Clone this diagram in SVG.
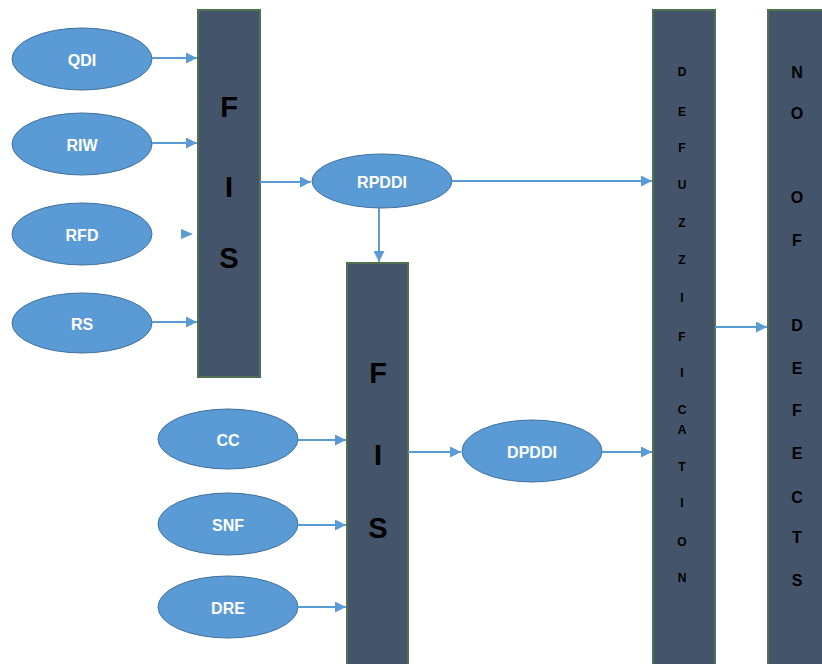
<svg xmlns="http://www.w3.org/2000/svg" width="822" height="664" viewBox="0 0 822 664">
  <style>
    .bg { fill: #ffffff; }
    .ell { fill: #5b9bd5; stroke: #41719c; stroke-width: 1; }
    .lbl { font-family: "Liberation Sans", Arial, sans-serif; font-weight: bold; font-size: 16px; fill: #ffffff; text-anchor: middle; dominant-baseline: central; }
    .box { fill: #44546a; stroke: #507050; stroke-width: 2; }
    .big { font-family: "Liberation Sans", Arial, sans-serif; font-weight: bold; font-size: 29px; fill: #000000; text-anchor: middle; dominant-baseline: central; }
    .sm { font-family: "Liberation Sans", Arial, sans-serif; font-weight: bold; font-size: 12px; fill: #000000; text-anchor: middle; dominant-baseline: central; }
    .md { font-family: "Liberation Sans", Arial, sans-serif; font-weight: bold; font-size: 16px; fill: #000000; text-anchor: middle; dominant-baseline: central; }
    .conn { stroke: #5b9bd5; stroke-width: 2; fill: none; marker-end: url(#arrow); }
  </style>
  <defs>
    <marker id="arrow" viewBox="0 0 10 10" refX="10" refY="5" markerWidth="6.5" markerHeight="5.5" orient="auto" markerUnits="strokeWidth">
      <path d="M0,0 L10,5 L0,10 z" fill="#5b9bd5"/>
    </marker>
  </defs>
  <rect class="bg" x="0" y="0" width="822" height="664"/>

  <!-- input variables, first inference stage -->
  <g id="qdi"><ellipse class="ell" cx="82" cy="59" rx="70" ry="31"/><text class="lbl" x="82" y="60">QDI</text></g>
  <g id="riw"><ellipse class="ell" cx="82" cy="144" rx="70" ry="31"/><text class="lbl" x="82" y="145">RIW</text></g>
  <g id="rfd"><ellipse class="ell" cx="82" cy="234" rx="70" ry="31"/><text class="lbl" x="82" y="235">RFD</text></g>
  <g id="rs"><ellipse class="ell" cx="82" cy="323" rx="70" ry="30"/><text class="lbl" x="82" y="324">RS</text></g>

  <!-- first FIS -->
  <g id="fis1">
    <rect class="box" x="198" y="10" width="62" height="367"/>
    <text class="big" x="229" y="107">F</text>
    <text class="big" x="229" y="187">I</text>
    <text class="big" x="229" y="258">S</text>
  </g>

  <g id="rpddi"><ellipse class="ell" cx="382" cy="181" rx="70" ry="27"/><text class="lbl" x="382" y="182">RPDDI</text></g>

  <!-- second FIS -->
  <g id="fis2">
    <rect class="box" x="347" y="263" width="61" height="410"/>
    <text class="big" x="378" y="373">F</text>
    <text class="big" x="378" y="455">I</text>
    <text class="big" x="378" y="528">S</text>
  </g>

  <!-- input variables, second inference stage -->
  <g id="cc"><ellipse class="ell" cx="228" cy="439" rx="70" ry="30"/><text class="lbl" x="228" y="440">CC</text></g>
  <g id="snf"><ellipse class="ell" cx="228" cy="524" rx="70" ry="31"/><text class="lbl" x="228" y="525">SNF</text></g>
  <g id="dre"><ellipse class="ell" cx="228" cy="607" rx="70" ry="31"/><text class="lbl" x="228" y="608">DRE</text></g>

  <g id="dpddi"><ellipse class="ell" cx="532" cy="451" rx="70" ry="31"/><text class="lbl" x="532" y="452">DPDDI</text></g>

  <!-- defuzzification column -->
  <g id="defuzzification">
    <rect class="box" x="653" y="10" width="62" height="664"/>
    <text class="sm" x="682" y="72">D</text>
    <text class="sm" x="682" y="112">E</text>
    <text class="sm" x="682" y="148">F</text>
    <text class="sm" x="682" y="185">U</text>
    <text class="sm" x="682" y="223">Z</text>
    <text class="sm" x="682" y="260">Z</text>
    <text class="sm" x="682" y="298">I</text>
    <text class="sm" x="682" y="337">F</text>
    <text class="sm" x="682" y="373">I</text>
    <text class="sm" x="682" y="410">C</text>
    <text class="sm" x="682" y="430">A</text>
    <text class="sm" x="682" y="467">T</text>
    <text class="sm" x="682" y="503">I</text>
    <text class="sm" x="682" y="542">O</text>
    <text class="sm" x="682" y="578">N</text>
  </g>

  <!-- output column -->
  <g id="no-of-defects">
    <rect class="box" x="768" y="10" width="64" height="664"/>
    <text class="md" x="797" y="72">N</text>
    <text class="md" x="797" y="113">O</text>
    <text class="md" x="797" y="197">O</text>
    <text class="md" x="797" y="240">F</text>
    <text class="md" x="797" y="325">D</text>
    <text class="md" x="797" y="368">E</text>
    <text class="md" x="797" y="410">F</text>
    <text class="md" x="797" y="453">E</text>
    <text class="md" x="797" y="497">C</text>
    <text class="md" x="797" y="537">T</text>
    <text class="md" x="797" y="580">S</text>
  </g>

  <g id="connectors">
    <line class="conn" x1="152" y1="58" x2="197" y2="58"/>
    <line class="conn" x1="152" y1="143" x2="197" y2="143"/>
    <path d="M181,229 L193,234 L181,239 z" fill="#5b9bd5"/>
    <line class="conn" x1="152" y1="322" x2="197" y2="322"/>
    <line class="conn" x1="260" y1="182" x2="311" y2="182"/>
    <line class="conn" x1="452" y1="181" x2="652" y2="181"/>
    <line class="conn" x1="379" y1="208" x2="379" y2="262"/>
    <line class="conn" x1="298" y1="440" x2="346" y2="440"/>
    <line class="conn" x1="298" y1="525" x2="346" y2="525"/>
    <line class="conn" x1="298" y1="607" x2="346" y2="607"/>
    <line class="conn" x1="408" y1="452" x2="461" y2="452"/>
    <line class="conn" x1="602" y1="452" x2="652" y2="452"/>
    <line class="conn" x1="715" y1="327" x2="767" y2="327"/>
  </g>
</svg>
